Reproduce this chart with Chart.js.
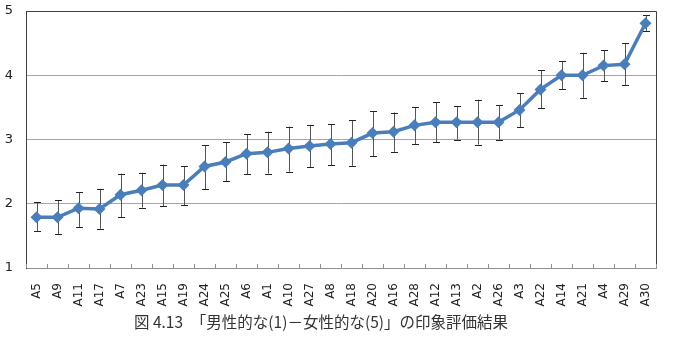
<!DOCTYPE html>
<html>
<head>
<meta charset="utf-8">
<script src="https://cdn.jsdelivr.net/npm/chart.js@4.4.1/dist/chart.umd.min.js"></script>
<style>
  html, body { margin: 0; padding: 0; background: #fff; }
  #wrap { position: relative; width: 675px; height: 341px; }
  #caption { position: absolute; left: 0; top: 310px; width: 642px; text-align: center;
    font-family: "Noto Sans CJK JP", sans-serif; font-size: 15.5px; color: #333; white-space: pre; }
</style>
</head>
<body>
<div id="wrap">
  <canvas id="c" width="675" height="341"></canvas>
  <div id="caption">図 4.13　「男性的な(1)－女性的な(5)」の印象評価結果</div>
</div>
<script>
const categories = ["A5","A9","A11","A17","A7","A23","A15","A19","A24","A25","A6","A1","A10","A27","A8","A18","A20","A16","A28","A12","A13","A2","A26","A3","A22","A14","A21","A4","A29","A30"];
const means = [1.79,1.79,1.93,1.92,2.14,2.21,2.29,2.29,2.58,2.65,2.78,2.80,2.86,2.90,2.93,2.95,3.10,3.12,3.22,3.27,3.27,3.27,3.27,3.46,3.78,4.00,4.00,4.15,4.17,4.81];
const errHigh = [2.02,2.06,2.18,2.23,2.47,2.48,2.61,2.58,2.91,2.96,3.08,3.12,3.20,3.22,3.24,3.30,3.44,3.42,3.50,3.58,3.52,3.62,3.53,3.72,4.08,4.22,4.35,4.39,4.50,4.93];
const errLow = [1.57,1.53,1.64,1.61,1.79,1.94,1.96,1.98,2.23,2.35,2.46,2.47,2.50,2.57,2.60,2.59,2.74,2.81,2.93,2.96,3.00,2.92,3.00,3.19,3.49,3.78,3.65,3.91,3.85,4.69];
const yTicks = [1,2,3,4,5];

const errorBars = {
  id: 'errorBars',
  beforeDatasetsDraw(chart) {
    const {ctx, scales: {x, y}} = chart;
    ctx.save();
    ctx.lineWidth = 1;
    categories.forEach((c, i) => {
      const px = Math.round(x.getPixelForValue(i)) + 0.5;
      const top = y.getPixelForValue(errHigh[i]);
      const bot = y.getPixelForValue(errLow[i]);
      ctx.strokeStyle = '#555';
      ctx.beginPath();
      ctx.moveTo(px, top); ctx.lineTo(px, bot);
      ctx.stroke();
      ctx.strokeStyle = '#222';
      ctx.beginPath();
      ctx.moveTo(px - 3.5, Math.round(top) + 0.5); ctx.lineTo(px + 3.5, Math.round(top) + 0.5);
      ctx.moveTo(px - 3.5, Math.round(bot) + 0.5); ctx.lineTo(px + 3.5, Math.round(bot) + 0.5);
      ctx.stroke();
    });
    ctx.restore();
  }
};

const frame = {
  id: 'frame',
  afterDraw(chart) {
    const {ctx, chartArea: a, scales: {x}} = chart;
    ctx.save();
    ctx.lineWidth = 1;
    ctx.strokeStyle = '#404040';
    ctx.beginPath();
    ctx.moveTo(a.left, Math.round(a.top) + 0.5);
    ctx.lineTo(Math.round(a.right) + 0.5, Math.round(a.top) + 0.5);
    ctx.lineTo(Math.round(a.right) + 0.5, Math.round(a.bottom));
    ctx.stroke();
    ctx.strokeStyle = '#909090';
    ctx.beginPath();
    for (let i = 0; i <= categories.length; i++) {
      const px = Math.round(x.getPixelForValue(i - 0.5)) + 0.5;
      ctx.moveTo(px, Math.round(a.bottom));
      ctx.lineTo(px, Math.round(a.bottom) - 4);
    }
    ctx.stroke();
    ctx.restore();
  }
};

new Chart(document.getElementById('c'), {
  type: 'line',
  data: {
    labels: categories,
    datasets: [{
      data: means,
      borderColor: '#4A7EBB',
      backgroundColor: '#4A7EBB',
      borderWidth: 3.5,
      pointStyle: 'rectRot',
      pointRadius: 6,
      pointBorderWidth: 0,
      tension: 0
    }]
  },
  options: {
    responsive: false,
    animation: false,
    layout: { padding: { left: 0, right: 4, top: 11, bottom: 33 } },
    plugins: { legend: { display: false }, tooltip: { enabled: false } },
    scales: {
      x: {
        offset: true,
        grid: { display: false, drawTicks: false },
        border: { display: true, color: '#909090', width: 1 },
        ticks: {
          autoSkip: false, minRotation: 90, maxRotation: 90, padding: 15,
          color: '#222', font: { family: 'DejaVu Sans', size: 12 }
        },
        afterFit(s) { s.height = 40; }
      },
      y: {
        min: 1, max: 5,
        afterBuildTicks(s) { s.ticks = yTicks.map(v => ({ value: v })); },
        grid: {
          drawTicks: true,
          tickLength: 12,
          tickColor: 'rgba(0,0,0,0)',
          color: ctx => ctx.tick && ctx.tick.value === 5 ? '#404040' : (ctx.tick && ctx.tick.value === 1 ? 'rgba(0,0,0,0)' : '#A6A6A6'),
          lineWidth: 1
        },
        border: { display: true, color: '#404040', width: 1 },
        ticks: { padding: 1, color: '#222', font: { family: 'DejaVu Sans', size: 13 } },
        afterFit(s) { s.width = 26; }
      }
    }
  },
  plugins: [errorBars, frame]
});
</script>
</body>
</html>
